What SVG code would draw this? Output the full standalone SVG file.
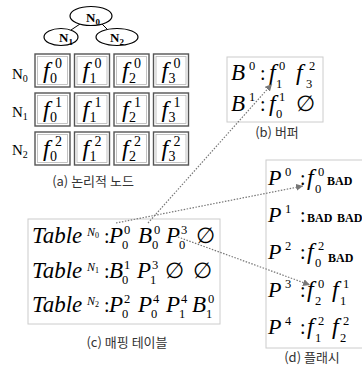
<svg xmlns="http://www.w3.org/2000/svg" width="362" height="368" viewBox="0 0 362 368" font-family="Liberation Serif, Times New Roman, serif">
<defs>
<style>
.it{font-family:"Liberation Serif","Times New Roman",Times,serif;font-style:italic;fill:#000}
.rm{font-family:"Liberation Serif","Times New Roman",Times,serif;fill:#000}
.f{font-size:24px}
.s{font-size:14px}
.ss{font-size:12.5px}
.bad{font-family:"Liberation Serif","Times New Roman",serif;font-weight:bold;font-size:12px}
.cap{font-family:"Noto Sans CJK KR",sans-serif;font-size:13px;fill:#333}
.cell{fill:#fff;stroke:#555;stroke-width:1.4}
.cellin{fill:none;stroke:#b5b5b5;stroke-width:0.8}
.box{fill:#fff;stroke:#ccc;stroke-width:1}
.ell{fill:#fff;stroke:#000;stroke-width:1.2}
.edge{stroke:#000;stroke-width:1}
.dot{fill:none;stroke:#777;stroke-width:1.2;stroke-dasharray:1.5 1.5}
.tn{font-family:"Liberation Serif","Times New Roman",serif;font-weight:bold;font-size:13px}
.tb{font-size:23px}
</style>
<marker id="ah" viewBox="0 0 10 10" refX="10" refY="5" markerWidth="7" markerHeight="7" markerUnits="userSpaceOnUse" orient="auto">
<path d="M0,0 L10,5 L0,10 z" fill="#777"/>
</marker>
</defs>
<rect width="362" height="368" fill="#fff"/>

<g id="tree-edges">
<line class="edge" x1="80" y1="24" x2="71" y2="30"/>
<line class="edge" x1="101" y1="23" x2="108" y2="30"/>
</g>
<g id="tree-N0"><ellipse class="ell" cx="91" cy="16" rx="21" ry="9.5"/><text class="tn" x="86" y="22">N<tspan font-size="9" dy="3">0</tspan></text></g>
<g id="tree-N1"><ellipse class="ell" cx="61" cy="37" rx="17" ry="8.5"/><text class="tn" x="59" y="42">N<tspan font-size="9" dy="3">1</tspan></text></g>
<g id="tree-N2"><ellipse class="ell" cx="117" cy="37" rx="21" ry="8.5"/><text class="tn" x="110" y="42">N<tspan font-size="9" dy="3">2</tspan></text></g>

<g id="rowlabels">
<text class="rm" font-size="15" x="12" y="79">N<tspan font-size="10" dy="3">0</tspan></text>
<text class="rm" font-size="15" x="12" y="117">N<tspan font-size="10" dy="3">1</tspan></text>
<text class="rm" font-size="15" x="12" y="155">N<tspan font-size="10" dy="3">2</tspan></text>
</g>

<g id="cell-0-0"><rect class="cell" x="35" y="54" width="35" height="33"/><rect class="cellin" x="37.5" y="56.5" width="30" height="28"/><text class="it f" x="43" y="78">f</text><text class="rm s" x="55" y="68">0</text><text class="rm s" x="50" y="83">0</text></g>
<g id="cell-0-1"><rect class="cell" x="74.5" y="54" width="35" height="33"/><rect class="cellin" x="77" y="56.5" width="30" height="28"/><text class="it f" x="82.5" y="78">f</text><text class="rm s" x="94.5" y="68">0</text><text class="rm s" x="89.5" y="83">1</text></g>
<g id="cell-0-2"><rect class="cell" x="114" y="54" width="35" height="33"/><rect class="cellin" x="116.5" y="56.5" width="30" height="28"/><text class="it f" x="122" y="78">f</text><text class="rm s" x="134" y="68">0</text><text class="rm s" x="129" y="83">2</text></g>
<g id="cell-0-3"><rect class="cell" x="153.5" y="54" width="35" height="33"/><rect class="cellin" x="156" y="56.5" width="30" height="28"/><text class="it f" x="161.5" y="78">f</text><text class="rm s" x="173.5" y="68">0</text><text class="rm s" x="168.5" y="83">3</text></g>

<g id="cell-1-0"><rect class="cell" x="35" y="93" width="35" height="33"/><rect class="cellin" x="37.5" y="95.5" width="30" height="28"/><text class="it f" x="43" y="117">f</text><text class="rm s" x="55" y="107">1</text><text class="rm s" x="50" y="122">0</text></g>
<g id="cell-1-1"><rect class="cell" x="74.5" y="93" width="35" height="33"/><rect class="cellin" x="77" y="95.5" width="30" height="28"/><text class="it f" x="82.5" y="117">f</text><text class="rm s" x="94.5" y="107">1</text><text class="rm s" x="89.5" y="122">1</text></g>
<g id="cell-1-2"><rect class="cell" x="114" y="93" width="35" height="33"/><rect class="cellin" x="116.5" y="95.5" width="30" height="28"/><text class="it f" x="122" y="117">f</text><text class="rm s" x="134" y="107">1</text><text class="rm s" x="129" y="122">2</text></g>
<g id="cell-1-3"><rect class="cell" x="153.5" y="93" width="35" height="33"/><rect class="cellin" x="156" y="95.5" width="30" height="28"/><text class="it f" x="161.5" y="117">f</text><text class="rm s" x="173.5" y="107">1</text><text class="rm s" x="168.5" y="122">3</text></g>

<g id="cell-2-0"><rect class="cell" x="35" y="132" width="35" height="33"/><rect class="cellin" x="37.5" y="134.5" width="30" height="28"/><text class="it f" x="43" y="156">f</text><text class="rm s" x="55" y="146">2</text><text class="rm s" x="50" y="161">0</text></g>
<g id="cell-2-1"><rect class="cell" x="74.5" y="132" width="35" height="33"/><rect class="cellin" x="77" y="134.5" width="30" height="28"/><text class="it f" x="82.5" y="156">f</text><text class="rm s" x="94.5" y="146">2</text><text class="rm s" x="89.5" y="161">1</text></g>
<g id="cell-2-2"><rect class="cell" x="114" y="132" width="35" height="33"/><rect class="cellin" x="116.5" y="134.5" width="30" height="28"/><text class="it f" x="122" y="156">f</text><text class="rm s" x="134" y="146">2</text><text class="rm s" x="129" y="161">2</text></g>
<g id="cell-2-3"><rect class="cell" x="153.5" y="132" width="35" height="33"/><rect class="cellin" x="156" y="134.5" width="30" height="28"/><text class="it f" x="161.5" y="156">f</text><text class="rm s" x="173.5" y="146">2</text><text class="rm s" x="168.5" y="161">3</text></g>

<text class="cap" x="93" y="186" text-anchor="middle">(a) 논리적 노드</text>

<g id="buffer">
<rect class="box" x="227" y="57" width="96" height="65"/>
<text class="it" font-size="23" x="231" y="80">B</text><text class="rm ss" x="249" y="70">0</text>
<text class="rm" font-size="20" x="260" y="80">:</text>
<text class="it f" x="269" y="80">f</text><text class="rm ss" x="279" y="70">0</text><text class="rm ss" x="276" y="88">1</text>
<text class="it f" x="296" y="80">f</text><text class="rm ss" x="309" y="70">2</text><text class="rm ss" x="306" y="88">3</text>
<text class="it" font-size="23" x="231" y="111">B</text><text class="rm ss" x="249" y="101">1</text>
<text class="rm" font-size="20" x="260" y="111">:</text>
<text class="it f" x="269" y="111">f</text><text class="rm ss" x="279" y="101">1</text><text class="rm ss" x="276" y="118">0</text>
<text class="rm" font-size="22" x="296" y="111">∅</text>
</g>
<text class="cap" x="277" y="137" text-anchor="middle">(b) 버퍼</text>

<g id="table">
<rect class="box" x="28" y="219" width="192" height="105"/>
<text class="it tb" x="32" y="243">Table</text><text class="it" font-size="12" x="87" y="236">N<tspan class="rm" font-style="normal" font-size="8" dy="2">0</tspan></text>
<text class="rm" font-size="20" x="104" y="243">:</text>
<text class="it tb" x="109" y="243">P</text><text class="rm ss" x="124" y="234">0</text><text class="rm ss" x="122" y="249">0</text>
<text class="it tb" x="138" y="243">B</text><text class="rm ss" x="154" y="234">0</text><text class="rm ss" x="152" y="249">0</text>
<text class="it tb" x="166" y="243">P</text><text class="rm ss" x="181" y="234">3</text><text class="rm ss" x="179" y="249">0</text>
<text class="rm" font-size="22" x="196" y="243">∅</text>

<text class="it tb" x="32" y="278">Table</text><text class="it" font-size="12" x="87" y="271">N<tspan class="rm" font-style="normal" font-size="8" dy="2">1</tspan></text>
<text class="rm" font-size="20" x="104" y="278">:</text>
<text class="it tb" x="109" y="278">B</text><text class="rm ss" x="124" y="269">1</text><text class="rm ss" x="122" y="284">0</text>
<text class="it tb" x="137" y="278">P</text><text class="rm ss" x="152" y="269">3</text><text class="rm ss" x="150" y="284">1</text>
<text class="rm" font-size="22" x="165" y="278">∅</text>
<text class="rm" font-size="22" x="193" y="278">∅</text>

<text class="it tb" x="32" y="312">Table</text><text class="it" font-size="12" x="87" y="305">N<tspan class="rm" font-style="normal" font-size="8" dy="2">2</tspan></text>
<text class="rm" font-size="20" x="104" y="312">:</text>
<text class="it tb" x="109" y="312">P</text><text class="rm ss" x="124" y="303">2</text><text class="rm ss" x="122" y="318">0</text>
<text class="it tb" x="138" y="312">P</text><text class="rm ss" x="153" y="303">4</text><text class="rm ss" x="151" y="318">0</text>
<text class="it tb" x="166" y="312">P</text><text class="rm ss" x="181" y="303">4</text><text class="rm ss" x="179" y="318">1</text>
<text class="it tb" x="192" y="312">B</text><text class="rm ss" x="208" y="303">0</text><text class="rm ss" x="206" y="318">1</text>
</g>
<text class="cap" x="127" y="347" text-anchor="middle">(c) 매핑 테이블</text>

<g id="flash">
<rect class="box" x="266" y="160" width="100" height="188"/>
<text class="it" font-size="22" x="268" y="185">P</text><text class="rm ss" x="285" y="176">0</text>
<text class="rm" font-size="20" x="300" y="185">:</text>
<text class="it f" x="307" y="185">f</text><text class="rm ss" x="318" y="176">0</text><text class="rm ss" x="315" y="193">0</text>
<text class="bad" x="327" y="185">BAD</text>

<text class="it" font-size="22" x="268" y="222">P</text><text class="rm ss" x="285" y="213">1</text>
<text class="rm" font-size="20" x="300" y="222">:</text>
<text class="bad" x="307" y="222">BAD</text>
<text class="bad" x="337" y="222">BAD</text>

<text class="it" font-size="22" x="268" y="259">P</text><text class="rm ss" x="285" y="250">2</text>
<text class="rm" font-size="20" x="300" y="259">:</text>
<text class="it f" x="307" y="259">f</text><text class="rm ss" x="318" y="250">2</text><text class="rm ss" x="315" y="267">0</text>
<text class="bad" x="328" y="262">BAD</text>

<text class="it" font-size="22" x="268" y="297">P</text><text class="rm ss" x="285" y="288">3</text>
<text class="rm" font-size="20" x="300" y="297">:</text>
<text class="it f" x="307" y="297">f</text><text class="rm ss" x="318" y="288">0</text><text class="rm ss" x="315" y="305">2</text>
<text class="it f" x="332" y="297">f</text><text class="rm ss" x="343" y="288">1</text><text class="rm ss" x="340" y="305">1</text>

<text class="it" font-size="22" x="268" y="334">P</text><text class="rm ss" x="285" y="325">4</text>
<text class="rm" font-size="20" x="300" y="334">:</text>
<text class="it f" x="307" y="334">f</text><text class="rm ss" x="318" y="325">2</text><text class="rm ss" x="315" y="342">1</text>
<text class="it f" x="332" y="334">f</text><text class="rm ss" x="343" y="325">2</text><text class="rm ss" x="340" y="342">2</text>
</g>
<text class="cap" x="312" y="362" text-anchor="middle">(d) 플래시</text>

<g id="connectors">
<line class="dot" x1="116" y1="223" x2="303" y2="186" marker-end="url(#ah)"/>
<line class="dot" x1="148" y1="223" x2="272" y2="84" marker-end="url(#ah)"/>
<line class="dot" x1="178" y1="237" x2="310" y2="285" marker-end="url(#ah)"/>
</g>
</svg>
